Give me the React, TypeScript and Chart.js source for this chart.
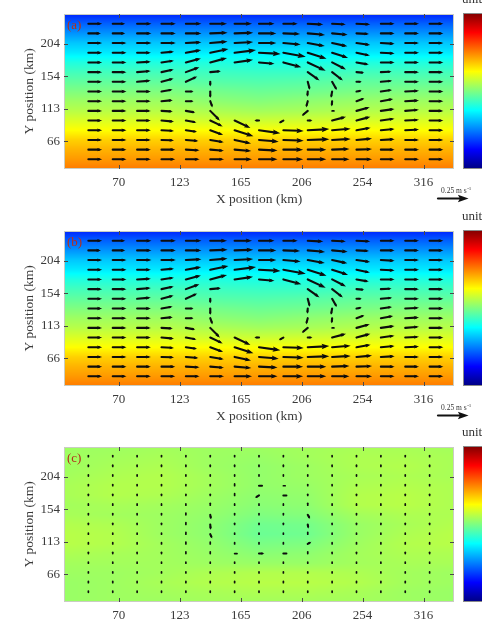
import React, { useEffect, useRef } from 'react';
import { Chart, registerables } from 'chart.js';

Chart.register(...registerables);

// ---------- axes ----------
const X_TICK_POS = [1.25, 3.75, 6.25, 8.75, 11.25, 13.75];
const X_TICK_LABELS = ['70', '123', '165', '206', '254', '316'];
const Y_TICK_POS = [1.85, 5.2, 8.55, 11.9];
const Y_TICK_LABELS = ['66', '113', '154', '204'];
const X_TITLE = 'X position (km)';
const Y_TITLE = 'Y position (km)';
const PANEL_LABELS = ['(a)', '(b)', '(c)'];
const UNIT_LABEL = 'unit';
const REF_SPEED = 25; // cm/s  (0.25 m s-1)
const REF_TEXT = '0.25 m s';
const REF_SUP = '-1';

// grid of the vectors: columns (x) and rows listed top -> bottom (y)
const COLS = [0, 1, 2, 3, 4, 5, 6, 7, 8, 9, 10, 11, 12, 13, 14];
const ROWS = [14, 13, 12, 11, 10, 9, 8, 7, 6, 5, 4, 3, 2, 1, 0];

// ---------- vectors panel (a) : speed (cm/s), direction (deg, 0 = east, ccw) ----------
const SPD_A = [
  [11, 10, 11.5, 11.5, 12.5, 13.5, 14, 12.5, 11.5, 12.5, 11, 11, 11, 11, 11],
  [10, 10, 11.5, 11.5, 12.5, 14, 15, 14, 13.5, 14, 12.5, 10, 11, 11, 11],
  [11, 11, 11.5, 11.5, 12.5, 14, 15, 14, 14, 14, 12.5, 11, 11, 11, 11],
  [11, 11, 11, 10, 12.5, 15, 17.5, 17.5, 18.5, 16, 13.5, 11, 11, 11, 11],
  [11, 11, 11, 10, 12.5, 14, 15, 12.5, 15, 16, 12.5, 10, 11, 11, 11],
  [11, 11, 11, 10, 11.5, 8.5, 0, 0, 0, 11.5, 11, 6, 8.5, 11, 11],
  [11, 11, 11, 10, 10, 3.5, 0, 0, 0, 6.5, 7.5, 4, 9, 11, 11],
  [11, 11, 11, 9, 6, 5, 0, 0, 0, 4, 5, 4, 9, 11, 11],
  [11, 11, 11, 9, 6, 5, 0, 0, 0, 5, 4, 6.5, 10, 11, 11],
  [11, 11, 11, 9, 7.5, 11, 0, 0, 0, 6, 1.5, 11, 11, 11, 11],
  [11, 11, 11, 10, 8.5, 11, 14, 3.5, 4, 3.5, 11.5, 11.5, 11, 11, 11],
  [11, 11, 11, 10, 9, 11, 16, 17.5, 16.5, 17.5, 15, 11.5, 11, 11, 11],
  [11, 11, 11, 10, 10, 11, 13.5, 16, 16.5, 17.5, 15, 12.5, 11, 11, 11],
  [11, 11, 11, 11, 11, 11, 13.5, 15, 16, 15, 14, 12.5, 11, 11, 11],
  [11, 11, 11, 11, 11, 11, 14, 15, 16, 15, 14, 12.5, 11, 11, 11],
];
const DIR_A = [
  [0, 0, 0, 0, 0, 0, 0, 0, 0, -3, -3, -3, 0, 0, 0],
  [0, 0, 0, 0, 0, 2, 2, 0, -2, -5, -5, -3, 0, 0, 0],
  [0, 0, 0, 0, 3, 5, 3, 0, -5, -10, -12, -8, -3, 0, 0],
  [0, 0, 0, 5, 10, 12, 7, -3, -10, -18, -18, -12, -3, 0, 0],
  [0, 0, 3, 8, 15, 15, 8, -5, -15, -25, -27, -10, 0, 0, 0],
  [0, 0, 5, 12, 20, 5, 0, 0, 0, -35, -38, -5, 3, 0, 0],
  [0, 0, 5, 15, 25, -90, 0, 0, 0, -75, -60, 0, 5, 0, 0],
  [0, 0, 0, 10, 0, -90, 0, 0, 0, -95, -100, 10, 8, 3, 0],
  [0, 0, 0, 5, 0, -70, 0, 0, 0, -105, -95, 20, 10, 3, 0],
  [0, 0, 0, -3, -10, -45, 0, 0, 0, -140, 0, 15, 8, 5, 0],
  [0, 0, 0, -5, -10, -25, -25, 180, -150, 0, 15, 15, 8, 3, 0],
  [0, 0, 0, -3, -8, -20, -18, -8, -2, 3, 5, 10, 5, 3, 0],
  [0, 0, 0, -2, -5, -10, -12, -5, -2, 2, 3, 5, 3, 0, 0],
  [0, 0, 0, 0, -3, -5, -5, -3, 0, 0, 2, 2, 0, 0, 0],
  [0, 0, 0, 0, 0, 0, 0, 0, 0, 0, 0, 0, 0, 0, 0],
];
// panel (b) reads the same as (a)
const SPD_B = SPD_A;
const DIR_B = DIR_A;

// ---------- vectors panel (c) (difference) ----------
const SPD_C = [
  [1, 1, 1, 1, 1, 1, 1, 1, 1, 1, 1, 1, 1, 1, 1],
  [1, 1, 1, 1, 1, 1, 1, 1, 1, 1, 1, 1, 1, 1, 1],
  [1, 1, 1, 1, 1, 1, 1, 1, 1, 1, 1, 1, 1, 1, 1],
  [1, 1, 1, 1, 1, 1, 1.5, 2.5, 1.5, 1, 1, 1, 1, 1, 1],
  [1, 1, 1, 1, 1, 1, 1.5, 3.5, 2.5, 1, 1, 1, 1, 1, 1],
  [1, 1, 1, 1, 1, 1.5, 1, 1, 1, 1.5, 1, 1, 1, 1, 1],
  [1, 1, 1, 1, 1.5, 3.5, 1, 1, 1, 3.5, 1, 1, 1, 1, 1],
  [1, 1, 1, 1, 1.5, 4, 1, 1, 1, 3, 1, 1, 1, 1, 1],
  [1, 1, 1, 1, 1.5, 3.5, 1, 1, 1, 1.5, 1, 1, 1, 1, 1],
  [1, 1, 1, 1, 1.5, 1.5, 1, 1, 1, 3, 1, 1, 1, 1, 1],
  [1, 1, 1, 1, 1.5, 1.5, 2, 4, 2.5, 1.5, 1, 1, 1, 1, 1],
  [1, 1, 1, 1, 1, 1, 1, 1, 1, 1, 1, 1, 1, 1, 1],
  [1, 1, 1, 1, 1, 1, 1, 1, 1, 1, 1, 1, 1, 1, 1],
  [1, 1, 1, 1, 1, 1, 1, 1, 1, 1, 1, 1, 1, 1, 1],
  [1, 1, 1, 1, 1, 1, 1, 1, 1, 1, 1, 1, 1, 1, 1],
];
const DIR_C = [
  [90, 90, 90, 90, 90, 90, 90, 90, 90, 90, 90, 90, 90, 90, 90],
  [90, 90, 90, 90, 90, 90, 90, 90, 90, 90, 90, 90, 90, 90, 90],
  [90, 90, 90, 90, 90, 90, 90, 90, 90, 90, 90, 90, 90, 90, 90],
  [90, 90, 90, 90, 90, 90, 90, 0, 0, 90, 90, 90, 90, 90, 90],
  [90, 90, 90, 90, 90, 90, 90, 210, 0, 90, 90, 90, 90, 90, 90],
  [90, 90, 90, 90, 90, 90, 90, 90, 90, 90, 90, 90, 90, 90, 90],
  [90, 90, 90, 90, 90, -80, 90, 90, 90, -60, 90, 90, 90, 90, 90],
  [90, 90, 90, 90, 90, -85, 90, 90, 90, -80, 90, 90, 90, 90, 90],
  [90, 90, 90, 90, 90, -65, 90, 90, 90, 90, 90, 90, 90, 90, 90],
  [90, 90, 90, 90, 90, 90, 90, 90, 90, 30, 90, 90, 90, 90, 90],
  [90, 90, 90, 90, 90, 90, 0, 0, 0, 90, 90, 90, 90, 90, 90],
  [90, 90, 90, 90, 90, 90, 90, 90, 90, 90, 90, 90, 90, 90, 90],
  [90, 90, 90, 90, 90, 90, 90, 90, 90, 90, 90, 90, 90, 90, 90],
  [90, 90, 90, 90, 90, 90, 90, 90, 90, 90, 90, 90, 90, 90, 90],
  [90, 90, 90, 90, 90, 90, 90, 90, 90, 90, 90, 90, 90, 90, 90],
];

// ---------- colour fields (0..1 on the jet colour scale) ----------
const FIELD_X = [-1, 1, 3, 5, 7, 9, 11, 13, 15];
const FIELD_Y = [15, 14, 13, 12, 11, 10, 9, 8, 7, 6, 5, 4, 3, 2, 1, 0, -1];
const FIELD_A = [
  [0.16, 0.16, 0.16, 0.16, 0.16, 0.16, 0.16, 0.16, 0.16],
  [0.22, 0.22, 0.22, 0.22, 0.22, 0.22, 0.22, 0.22, 0.22],
  [0.27, 0.27, 0.27, 0.27, 0.27, 0.27, 0.27, 0.27, 0.27],
  [0.32, 0.32, 0.32, 0.32, 0.32, 0.32, 0.32, 0.32, 0.32],
  [0.355, 0.355, 0.355, 0.36, 0.36, 0.36, 0.355, 0.355, 0.355],
  [0.405, 0.405, 0.405, 0.405, 0.4, 0.4, 0.405, 0.405, 0.405],
  [0.44, 0.44, 0.44, 0.435, 0.43, 0.43, 0.44, 0.44, 0.44],
  [0.47, 0.47, 0.47, 0.46, 0.455, 0.46, 0.47, 0.47, 0.47],
  [0.5, 0.5, 0.5, 0.49, 0.48, 0.485, 0.495, 0.5, 0.5],
  [0.53, 0.53, 0.53, 0.515, 0.505, 0.515, 0.525, 0.53, 0.53],
  [0.555, 0.555, 0.555, 0.545, 0.535, 0.54, 0.55, 0.555, 0.555],
  [0.59, 0.59, 0.59, 0.58, 0.575, 0.58, 0.585, 0.59, 0.59],
  [0.625, 0.625, 0.625, 0.625, 0.62, 0.62, 0.625, 0.625, 0.625],
  [0.67, 0.67, 0.67, 0.67, 0.67, 0.67, 0.67, 0.67, 0.67],
  [0.7, 0.7, 0.7, 0.7, 0.7, 0.7, 0.7, 0.7, 0.7],
  [0.725, 0.725, 0.725, 0.725, 0.725, 0.725, 0.725, 0.725, 0.725],
  [0.755, 0.755, 0.755, 0.755, 0.755, 0.755, 0.755, 0.755, 0.755],
];
const FIELD_B = FIELD_A;
const FIELD_C = [
  [0.53, 0.53, 0.535, 0.53, 0.53, 0.535, 0.54, 0.54, 0.535],
  [0.53, 0.535, 0.54, 0.53, 0.525, 0.535, 0.545, 0.545, 0.54],
  [0.53, 0.54, 0.545, 0.53, 0.52, 0.53, 0.545, 0.55, 0.54],
  [0.535, 0.545, 0.55, 0.535, 0.52, 0.53, 0.54, 0.545, 0.54],
  [0.54, 0.55, 0.55, 0.535, 0.52, 0.525, 0.545, 0.55, 0.545],
  [0.54, 0.55, 0.545, 0.53, 0.515, 0.52, 0.55, 0.555, 0.545],
  [0.535, 0.54, 0.535, 0.525, 0.51, 0.515, 0.55, 0.555, 0.545],
  [0.54, 0.535, 0.53, 0.52, 0.5, 0.505, 0.535, 0.545, 0.545],
  [0.55, 0.545, 0.53, 0.515, 0.485, 0.49, 0.525, 0.54, 0.55],
  [0.555, 0.55, 0.53, 0.515, 0.48, 0.485, 0.525, 0.545, 0.555],
  [0.555, 0.55, 0.535, 0.52, 0.495, 0.5, 0.53, 0.55, 0.555],
  [0.545, 0.54, 0.535, 0.525, 0.51, 0.515, 0.535, 0.545, 0.545],
  [0.535, 0.535, 0.535, 0.53, 0.525, 0.525, 0.535, 0.54, 0.54],
  [0.53, 0.53, 0.535, 0.545, 0.55, 0.55, 0.545, 0.535, 0.53],
  [0.525, 0.53, 0.54, 0.55, 0.555, 0.555, 0.55, 0.535, 0.53],
  [0.525, 0.53, 0.535, 0.54, 0.545, 0.545, 0.54, 0.53, 0.525],
  [0.525, 0.53, 0.53, 0.535, 0.535, 0.535, 0.535, 0.53, 0.525],
];
const COLORBAR_STOPS = [0, 0.125, 0.375, 0.625, 0.875, 1];

// ---------- presentation ----------
const SERIF = '"Liberation Serif", "Times New Roman", serif';
const CANVAS_W = 482;
const CANVAS_H = 237;
const TOP_PAD = 34;
const PANEL_TOPS = [-20, 197, 413];
const QUIVER_UNITS_PER_CMS = 0.0492; // x-axis units per cm/s

function jet(v: number): [number, number, number] {
  const c = (t: number) => Math.max(0, Math.min(1, t));
  return [
    c(Math.min(4 * v - 1.5, -4 * v + 4.5)),
    c(Math.min(4 * v - 0.5, -4 * v + 3.5)),
    c(Math.min(4 * v + 0.5, -4 * v + 2.5)),
  ];
}
function rgb(v: number) {
  const [r, g, b] = jet(v);
  return `rgb(${Math.round(r * 255)},${Math.round(g * 255)},${Math.round(b * 255)})`;
}

function sampleField(f: number[][], xv: number, yv: number) {
  const nx = FIELD_X.length, ny = FIELD_Y.length;
  let fx = (xv - FIELD_X[0]) / (FIELD_X[1] - FIELD_X[0]);
  let fy = (FIELD_Y[0] - yv) / (FIELD_Y[0] - FIELD_Y[1]);
  fx = Math.max(0, Math.min(nx - 1, fx));
  fy = Math.max(0, Math.min(ny - 1, fy));
  const i0 = Math.floor(fx), j0 = Math.floor(fy);
  const i1 = Math.min(i0 + 1, nx - 1), j1 = Math.min(j0 + 1, ny - 1);
  const tx = fx - i0, ty = fy - j0;
  return (1 - ty) * ((1 - tx) * f[j0][i0] + tx * f[j0][i1]) + ty * ((1 - tx) * f[j1][i0] + tx * f[j1][i1]);
}

function drawArrow(ctx: CanvasRenderingContext2D, x0: number, y0: number, len: number, deg: number, lw: number) {
  if (len <= 0) return;
  const a = (deg * Math.PI) / 180;
  const dx = Math.cos(a), dy = -Math.sin(a);
  const x1 = x0 + dx * len, y1 = y0 + dy * len;
  ctx.lineWidth = lw;
  ctx.lineCap = 'round';
  if (len < 3) {
    ctx.beginPath();
    ctx.moveTo(x0, y0);
    ctx.lineTo(x1, y1);
    ctx.stroke();
    return;
  }
  const hl = Math.max(3, len * 0.36);
  const th = Math.atan2(dy, dx);
  const ha = 0.36;
  ctx.beginPath();
  ctx.moveTo(x0, y0);
  ctx.lineTo(x1 - dx * hl * 0.5, y1 - dy * hl * 0.5);
  ctx.stroke();
  ctx.beginPath();
  ctx.moveTo(x1 + dx * 0.6, y1 + dy * 0.6);
  ctx.lineTo(x1 - hl * Math.cos(th - ha), y1 - hl * Math.sin(th - ha));
  ctx.lineTo(x1 - hl * 0.75 * Math.cos(th), y1 - hl * 0.75 * Math.sin(th));
  ctx.lineTo(x1 - hl * Math.cos(th + ha), y1 - hl * Math.sin(th + ha));
  ctx.closePath();
  ctx.fill();
}

type Panel = { label: string; field: number[][]; spd: number[][]; dir: number[][] };
const PANELS: Panel[] = [
  { label: PANEL_LABELS[0], field: FIELD_A, spd: SPD_A, dir: DIR_A },
  { label: PANEL_LABELS[1], field: FIELD_B, spd: SPD_B, dir: DIR_B },
  { label: PANEL_LABELS[2], field: FIELD_C, spd: SPD_C, dir: DIR_C },
];

function makePlugin(p: Panel) {
  return {
    id: 'quiverPanel',
    beforeDatasetsDraw(chart: any) {
      const { ctx, chartArea: a, scales } = chart;
      const xs = scales.x, ys = scales.y;
      const L = Math.round(a.left), T = Math.round(a.top);
      const W = Math.round(a.right) - L, H = Math.round(a.bottom) - T;
      const img = ctx.createImageData(W, H);
      for (let py = 0; py < H; py++) {
        const yv = ys.getValueForPixel(T + py + 0.5);
        for (let px = 0; px < W; px++) {
          const xv = xs.getValueForPixel(L + px + 0.5);
          const [r, g, b] = jet(sampleField(p.field, xv, yv));
          const k = (py * W + px) * 4;
          img.data[k] = r * 255;
          img.data[k + 1] = g * 255;
          img.data[k + 2] = b * 255;
          img.data[k + 3] = 255;
        }
      }
      ctx.putImageData(img, L, T);
    },
    afterDatasetsDraw(chart: any) {
      const { ctx, chartArea: a, scales } = chart;
      const xs = scales.x, ys = scales.y;
      const pxPerUnit = xs.getPixelForValue(1) - xs.getPixelForValue(0);
      const pxPerCms = QUIVER_UNITS_PER_CMS * pxPerUnit;
      ctx.save();
      // vectors
      ctx.beginPath();
      ctx.rect(a.left, a.top, a.right - a.left, a.bottom - a.top);
      ctx.clip();
      ctx.strokeStyle = '#0d0d0d';
      ctx.fillStyle = '#0d0d0d';
      const meta = chart.getDatasetMeta(0);
      const data = chart.data.datasets[0].data;
      meta.data.forEach((el: any, i: number) => {
        const d = data[i];
        drawArrow(ctx, el.x, el.y, d.s * pxPerCms, d.d, d.s < 2.5 ? 1.7 : 2.1);
      });
      ctx.restore();

      ctx.save();
      // box
      ctx.strokeStyle = '#c9cdc2';
      ctx.lineWidth = 1;
      ctx.strokeRect(a.left + 0.5, a.top + 0.5, a.right - a.left - 1, a.bottom - a.top - 1);
      // inward ticks
      ctx.strokeStyle = '#4a4a4a';
      ctx.beginPath();
      X_TICK_POS.forEach((v) => {
        const x = Math.round(xs.getPixelForValue(v)) + 0.5;
        ctx.moveTo(x, a.bottom);
        ctx.lineTo(x, a.bottom - 4);
        ctx.moveTo(x, a.top);
        ctx.lineTo(x, a.top + 4);
      });
      Y_TICK_POS.forEach((v) => {
        const y = Math.round(ys.getPixelForValue(v)) + 0.5;
        ctx.moveTo(a.left, y);
        ctx.lineTo(a.left + 4, y);
        ctx.moveTo(a.right, y);
        ctx.lineTo(a.right - 4, y);
      });
      ctx.stroke();
      // panel label
      ctx.fillStyle = '#b3301c';
      ctx.font = `13px ${SERIF}`;
      ctx.textBaseline = 'middle';
      ctx.textAlign = 'left';
      ctx.fillText(p.label, a.left + 3, a.top + 12);
      // colour bar
      const cbX = a.right + 9;
      const cbTop = a.top - 1, cbBot = a.bottom;
      const grad = ctx.createLinearGradient(0, cbBot, 0, cbTop);
      COLORBAR_STOPS.forEach((t) => grad.addColorStop(t, rgb(t)));
      ctx.fillStyle = grad;
      ctx.fillRect(cbX, cbTop, 40, cbBot - cbTop);
      ctx.strokeStyle = '#8a8a8a';
      ctx.strokeRect(cbX + 0.5, cbTop + 0.5, 40, cbBot - cbTop - 1);
      // unit label
      ctx.fillStyle = '#333';
      ctx.font = `13px ${SERIF}`;
      ctx.fillText(UNIT_LABEL, cbX - 1, a.top - 14);
      // reference arrow
      ctx.font = `7.5px ${SERIF}`;
      ctx.textBaseline = 'alphabetic';
      const tx = a.right - 13, ty = a.bottom + 24;
      ctx.fillText(REF_TEXT, tx, ty);
      const tw = ctx.measureText(REF_TEXT).width;
      ctx.font = `5px ${SERIF}`;
      ctx.fillText(REF_SUP, tx + tw + 0.5, ty - 3);
      ctx.fillStyle = '#111';
      ctx.strokeStyle = '#111';
      drawArrow(ctx, a.right - 16, a.bottom + 29.5, REF_SPEED * pxPerCms, 0, 2.2);
      ctx.restore();
    },
  };
}

function buildPoints(p: Panel) {
  const pts: any[] = [];
  ROWS.forEach((yv, j) => {
    COLS.forEach((xv, i) => {
      pts.push({ x: xv, y: yv, s: p.spd[j][i], d: p.dir[j][i] });
    });
  });
  return pts;
}

function makeConfig(p: Panel): any {
  const tickFont = { family: SERIF, size: 13 };
  const titleFont = { family: SERIF, size: 13.5 };
  return {
    type: 'scatter',
    data: {
      datasets: [
        {
          data: buildPoints(p),
          pointRadius: 0,
          pointHoverRadius: 0,
          showLine: false,
        },
      ],
    },
    options: {
      responsive: false,
      animation: false,
      events: [],
      layout: { padding: { top: TOP_PAD, right: 28, bottom: 0, left: 0 } },
      plugins: { legend: { display: false }, tooltip: { enabled: false } },
      scales: {
        x: {
          type: 'linear',
          min: -1,
          max: 15,
          grid: { display: false, drawTicks: false, tickLength: 0 },
          border: { display: false },
          afterBuildTicks: (s: any) => {
            s.ticks = X_TICK_POS.map((v) => ({ value: v }));
          },
          afterFit: (s: any) => {
            s.height = 48;
          },
          ticks: {
            autoSkip: false,
            maxRotation: 0,
            padding: 6,
            color: '#3a3a3a',
            font: tickFont,
            callback: (_v: any, i: number) => X_TICK_LABELS[i],
          },
          title: {
            display: true,
            text: X_TITLE,
            color: '#3a3a3a',
            font: titleFont,
            padding: { top: 0, bottom: 9 },
          },
        },
        y: {
          type: 'linear',
          min: -1,
          max: 15,
          grid: { display: false, drawTicks: false, tickLength: 0 },
          border: { display: false },
          afterBuildTicks: (s: any) => {
            s.ticks = Y_TICK_POS.map((v) => ({ value: v }));
          },
          afterFit: (s: any) => {
            s.width = 64;
          },
          ticks: {
            autoSkip: false,
            padding: 4,
            color: '#3a3a3a',
            font: tickFont,
            callback: (_v: any, i: number) => Y_TICK_LABELS[i],
          },
          title: {
            display: true,
            text: Y_TITLE,
            color: '#3a3a3a',
            font: titleFont,
            padding: { top: 21, bottom: 0 },
          },
        },
      },
    },
    plugins: [makePlugin(p)],
  };
}

export default function App() {
  const refs = useRef<(HTMLCanvasElement | null)[]>([]);
  useEffect(() => {
    const charts = PANELS.map((p, k) => {
      const c = refs.current[k];
      return c ? new Chart(c, makeConfig(p)) : null;
    });
    return () => charts.forEach((ch) => ch && ch.destroy());
  }, []);
  return (
    <div
      style={{
        position: 'fixed',
        left: 0,
        top: 0,
        width: CANVAS_W,
        height: 620,
        overflow: 'hidden',
        background: '#fff',
      }}
    >
      {PANELS.map((_p, k) => (
        <canvas
          key={k}
          ref={(el) => {
            refs.current[k] = el;
          }}
          width={CANVAS_W}
          height={CANVAS_H}
          style={{ position: 'absolute', left: 0, top: PANEL_TOPS[k], width: CANVAS_W, height: CANVAS_H }}
        />
      ))}
    </div>
  );
}
